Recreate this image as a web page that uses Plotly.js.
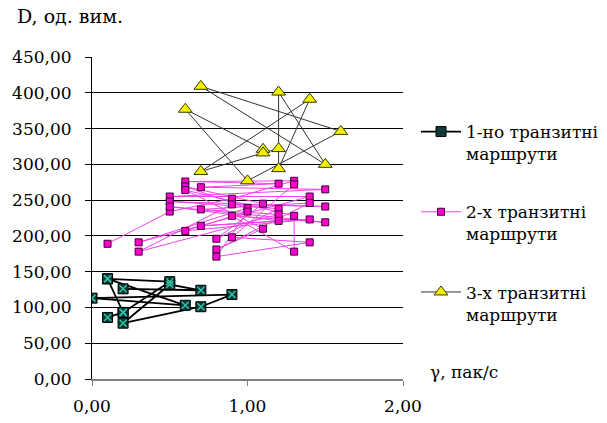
<!DOCTYPE html>
<html><head><meta charset="utf-8">
<script src="https://cdn.plot.ly/plotly-3.0.1.min.js"></script>
<style>
html,body{margin:0;padding:0;background:#fff}
#chart{width:607px;height:423px}
</style>
</head><body><div id="chart"></div>
<script>
// Series 1: "1-но транзитні маршрути"
const x1 = [0.10, 0.50, 0.20, 0.10, 0.20, 0.10, 0.60, 0.00, 0.90, 0.70, 0.20, 0.50, 0.70, 0.20];
const y1 = [140, 136, 93, 86, 93, 140, 103, 113, 118, 101, 78, 132, 124, 126];
// Series 2: "2-х транзитні маршрути"
const x2 = [0.1, 0.5, 0.9, 1.3, 0.6, 1.2, 0.7, 1.5, 0.5, 1.4, 0.3, 1.0, 0.6, 1.1, 0.8, 1.2, 0.5, 1.5, 0.9, 0.3,
            1.2, 0.7, 1.4, 0.8, 1.1, 0.6, 1.3, 1.3, 0.9, 1.5, 0.5, 1.2, 0.7, 1.4, 0.6, 1.0, 0.8, 1.4, 0.9, 1.3];
const y2 = [189, 234, 252, 277, 276, 273, 268, 265, 255, 255, 191, 239, 269, 245, 196, 238, 248, 241, 244, 178,
            230, 237, 246, 181, 210, 264, 228, 178, 228, 219, 241, 221, 214, 223, 207, 234, 171, 191, 198, 272];
// Series 3: "3-х транзитні маршрути"
const x3 = [1.1, 0.6, 1.0, 1.6, 0.7, 1.5, 1.2, 1.2, 1.4, 0.7, 1.1, 1.2];
const y3 = [321, 377, 277, 346, 409, 300, 401, 294, 391, 290, 316, 322];

const names = ["1-но транзитні<br>маршрути", "2-х транзитні<br>маршрути", "3-х транзитні<br>маршрути"];
const yTicks = [0, 50, 100, 150, 200, 250, 300, 350, 400, 450];
const xTicks = [0, 1, 2];

const serif = "DejaVu Serif";

const traces = [
  {x: x1, y: y1, name: names[0], legendgroup: "g1", mode: "lines+markers", type: "scatter",
   line: {color: "#000000", width: 1.8},
   marker: {symbol: "square", size: 10, color: "#0d3a36", line: {color: "#000000", width: 1}}},
  {x: x1, y: y1, showlegend: false, legendgroup: "g1", mode: "markers", type: "scatter", hoverinfo: "skip",
   marker: {symbol: "x-thin", size: 7, color: "#2ec4a8", line: {color: "#2ec4a8", width: 1.5}}},
  {x: x2, y: y2, name: names[1], legendgroup: "g2", mode: "lines+markers", type: "scatter",
   line: {color: "#ee44e6", width: 1},
   marker: {symbol: "square", size: 7, color: "#ff00cc", line: {color: "#3a003a", width: 1}}},
  {x: x3, y: y3, name: names[2], legendgroup: "g3", mode: "lines+markers", type: "scatter",
   line: {color: "#333333", width: 1},
   marker: {symbol: "triangle-up", size: 12, color: "#f2f000", line: {color: "#3a3a00", width: 1}}}
];

const layout = {
  width: 607, height: 423,
  margin: {l: 92, r: 204, t: 57, b: 44, pad: 0, autoexpand: false},
  paper_bgcolor: "#ffffff", plot_bgcolor: "#ffffff",
  separators: ", ",
  font: {family: serif, size: 17, color: "#000000"},
  showlegend: true,
  title: {text: "D, од. вим.", x: 17/607, xanchor: "left", xref: "container",
          y: 1 - 16/423, yanchor: "middle", yref: "container",
          font: {family: serif, size: 19, color: "#000000"}},
  xaxis: {range: [0, 2], tickvals: xTicks, tickformat: ".2f", showgrid: false, zeroline: false,
          showline: true, linecolor: "#808080", linewidth: 2, ticks: "outside", ticklen: 5, tickcolor: "#808080",
          tickfont: {family: serif, size: 17}, ticklabelstandoff: 6, fixedrange: true, automargin: false},
  yaxis: {range: [0, 450], tickvals: yTicks, tickformat: ".2f", showgrid: true, gridcolor: "#000000", gridwidth: 1,
          zeroline: false, showline: true, linecolor: "#000000", linewidth: 1, ticks: "outside", ticklen: 6,
          tickcolor: "#000000", tickfont: {family: serif, size: 17}, ticklabelstandoff: 10, fixedrange: true,
          automargin: false},
  legend: {xref: "container", yref: "container", x: 416 / 607, xanchor: "left", y: 1 - 114 / 423, yanchor: "top",
           font: {family: serif, size: 17, color: "#000000"}, bgcolor: "rgba(0,0,0,0)",
           traceorder: "grouped", tracegroupgap: 33, valign: "top", itemwidth: 40},
  annotations: [
    {text: "γ, пак/с", xref: "paper", yref: "paper", x: (427 - 92) / 310, y: (379 - 372) / 321.4,
     xanchor: "left", yanchor: "middle", showarrow: false, font: {family: serif, size: 17, color: "#000000"}}
  ]
};

Plotly.newPlot("chart", traces, layout, {displayModeBar: false, staticPlot: true});
</script>
</body></html>
